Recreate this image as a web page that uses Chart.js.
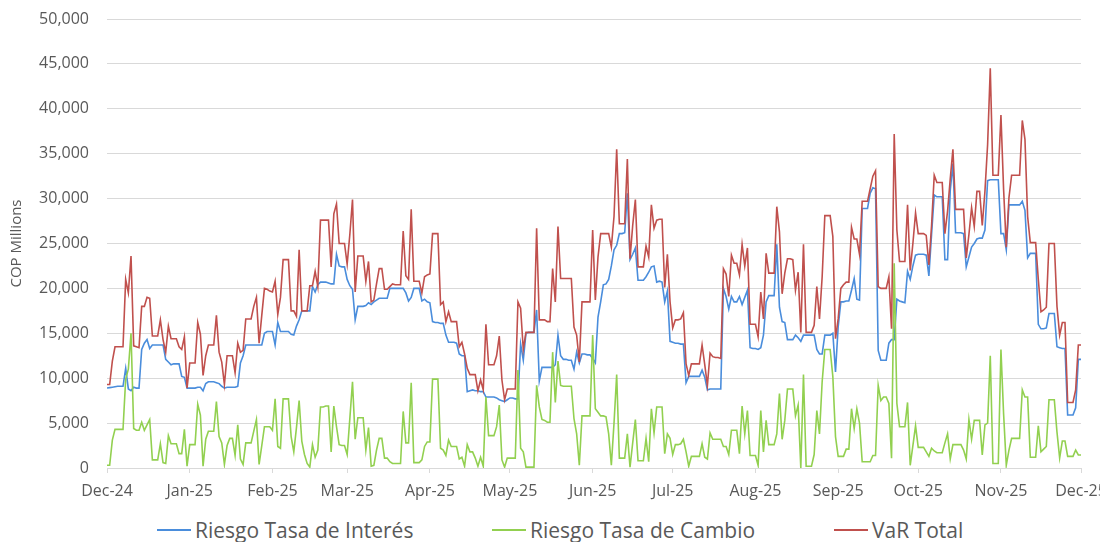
<!DOCTYPE html>
<html lang="es">
<head>
  <meta charset="UTF-8">
  <title>VaR - COP Millions</title>
  <script src="https://cdn.jsdelivr.net/npm/chart.js"></script>
  <style>
    body { margin: 0; background: #fff; font-family: "Open Sans", sans-serif; }
    #wrap { position: relative; width: 1114px; height: 542px; overflow: hidden; }
    #chart { position: absolute; left: 0; top: 0; }
    .legend-item { position: absolute; top: 518px; height: 24px; line-height: 24px; display: flex; align-items: center;
                   color: #595959; font-size: 21px; white-space: nowrap; }
    .legend-item .swatch { width: 34px; height: 2px; margin-right: 4px; }
  </style>
</head>
<body>
<div id="wrap">
  <canvas id="chart" width="1100" height="505"></canvas>
  <div id="legend"></div>
</div>

<script>
  // daily values, 1 Dec 2024 .. 1 Dec 2025 (COP millions)
  const riesgoTasaInteres = [
    8900, 8950, 9000, 9050, 9100, 9100, 9100, 11100, 8800, 8600,
    9000, 8900, 8900, 13200, 13900, 14300, 13300, 13700, 13700, 13700,
    13700, 13700, 12100, 11800, 11500, 11600, 11600, 11600, 10200, 10100,
    8900, 8900, 8900, 8900, 9000, 9000, 8600, 9400, 9600, 9600,
    9600, 9500, 9400, 9100, 8900, 9000, 9000, 9000, 9000, 9100,
    11700, 12500, 13700, 13700, 13700, 13700, 13700, 13700, 13700, 15000,
    15200, 15200, 15200, 13700, 16200, 15200, 15200, 15200, 15200, 14900,
    14800, 15800, 16500, 17500, 17500, 17500, 17500, 20200, 19600, 20400,
    20700, 20700, 20700, 20600, 20500, 20500, 23800, 22500, 22400, 22400,
    21000, 20300, 19900, 16500, 18000, 18000, 18000, 18100, 18400, 18200,
    18500, 18700, 18900, 18900, 18900, 18900, 20000, 20000, 20000, 20000,
    20000, 20000, 19500, 18600, 19000, 20000, 20000, 20000, 18600, 18800,
    18500, 18400, 16300, 16200, 16200, 16100, 16100, 14800, 14000, 14000,
    14000, 13900, 12700, 12500, 12500, 8500, 8600, 8700, 8600, 8600,
    8500, 8500, 7900, 7900, 7900, 7900, 7800, 7600, 7500, 7400,
    7600, 7800, 7800, 7700, 7700, 13800, 12000, 15000, 15100, 15100,
    15100, 17600, 9700, 11200, 11200, 11200, 11200, 11200, 11500, 14800,
    12500, 12100, 12100, 12000, 12000, 11000, 12900, 11700, 12700, 12700,
    12600, 12600, 12200, 11700, 16800, 18500, 20400, 20500, 21000, 22500,
    24300, 24800, 26100, 26100, 26200, 30600, 23200, 23800, 24500, 20900,
    20900, 20900, 21300, 21800, 22400, 22500, 20700, 20800, 20700, 18500,
    19700, 14100, 14000, 13900, 13900, 13800, 13800, 9500, 10200, 10200,
    10200, 10200, 10200, 10900, 10100, 8700, 8800, 8800, 8800, 8800,
    8800, 20000, 19100, 17700, 19100, 18500, 18500, 19100, 18200, 19000,
    19800, 13400, 13300, 13300, 13200, 13400, 14800, 18500, 19200, 19200,
    19200, 24900, 17900, 16300, 16200, 14300, 14300, 14300, 14800, 14500,
    14100, 14800, 14800, 14800, 14800, 14800, 13200, 12700, 12700, 14800,
    14800, 14800, 15000, 10700, 15700, 18500, 18500, 18600, 18600, 19800,
    21100, 18800, 18700, 28900, 28900, 28900, 30600, 31200, 31100, 13100,
    12000, 12000, 12000, 13900, 14300, 14300, 18800, 18600, 18500, 18400,
    21900, 21000, 22500, 23700, 23800, 23800, 23800, 23700, 21400, 26000,
    30400, 30200, 30200, 30200, 23200, 23200, 30900, 33900, 26200, 26200,
    26200, 26100, 22400, 23500, 24600, 25000, 25500, 25600, 25600, 26500,
    32000, 32100, 32100, 32100, 32100, 26100, 26100, 24300, 29300, 29300,
    29300, 29300, 29300, 29700, 28700, 23400, 23900, 23900, 23900, 16000,
    15500, 15500, 15600, 17200, 17200, 17200, 13500, 13400, 13300, 13300,
    5900, 5900, 5900, 6700, 12100, 12100
  ];

  const riesgoTasaCambio = [
    300, 300, 3100, 4300, 4300, 4300, 4300, 9900, 11000, 15000,
    4400, 4200, 4200, 5100, 4200, 4800, 5400, 900, 900, 900,
    2700, 600, 500, 3600, 2700, 2700, 2700, 1600, 1600, 4300,
    200, 2600, 2600, 2600, 7100, 5900, 200, 3200, 4100, 4100,
    4100, 7400, 3500, 2800, 400, 2500, 3300, 3300, 1400, 4800,
    1000, 400, 2800, 2800, 2800, 4100, 5400, 400, 2500, 4600,
    4600, 4600, 4200, 7700, 2400, 2200, 7700, 7700, 7700, 3500,
    1800, 4500, 7500, 3000, 1500, 500, 100, 2600, 1200, 2000,
    6800, 6800, 6900, 6900, 1800, 6900, 4600, 2600, 2500, 2500,
    1500, 5500, 9600, 3200, 5600, 5600, 5600, 2000, 4500, 200,
    300, 2000, 3300, 3300, 1100, 1100, 700, 500, 500, 500,
    500, 6300, 2800, 2800, 9500, 600, 600, 600, 900, 2400,
    2900, 2900, 9900, 9900, 9900, 2200, 2000, 1400, 3100, 2400,
    2400, 2400, 1000, 1200, 200, 2600, 1800, 1800, 1100, 200,
    1200, 200, 7900, 3600, 3600, 3600, 4600, 7000, 900, 100,
    1100, 1100, 1100, 1100, 10900, 2200, 1800, 100, 100, 100,
    100, 9200, 6800, 5400, 5300, 5100, 5100, 12900, 7300, 11900,
    9200, 9100, 9100, 9100, 9100, 5500, 3800, 300, 5800, 5800,
    5800, 5800, 14800, 6600, 6200, 5800, 5800, 5700, 3800, 300,
    5000, 10400, 1100, 1100, 1100, 3800, 100, 2800, 5400, 800,
    800, 800, 3300, 700, 6600, 3900, 6800, 6800, 6800, 1600,
    3800, 3300, 1500, 2600, 2600, 2700, 3200, 1800, 200, 1300,
    1300, 1300, 1300, 2700, 1200, 1000, 3900, 3200, 3200, 3200,
    3200, 2400, 2400, 1500, 4200, 4200, 4200, 1600, 6900, 3800,
    6400, 1400, 1400, 1400, 300, 6400, 1800, 5300, 2600, 2600,
    2600, 3800, 8300, 3200, 5300, 8800, 8800, 8800, 5800, 7000,
    0, 10400, 200, 200, 200, 1500, 6400, 3800, 9600, 13200,
    13200, 13200, 10200, 3500, 1300, 1300, 1300, 2100, 2100, 6600,
    4400, 6600, 5000, 700, 700, 700, 700, 1400, 1400, 9200,
    7500, 7900, 7900, 7200, 1100, 22800, 7200, 4600, 4600, 4600,
    7300, 300, 2500, 4700, 2300, 2300, 2300, 1800, 1300, 2200,
    1900, 1700, 1700, 1700, 2800, 3800, 1000, 2600, 2600, 2600,
    2600, 2000, 1000, 5400, 3200, 5300, 5300, 5300, 1450, 4800,
    5000, 12500, 500, 500, 500, 13200, 6000, 300, 2000, 3300,
    3300, 3300, 3300, 8700, 7900, 7900, 1200, 1200, 1200, 4700,
    1800, 2100, 2400, 7600, 7600, 7600, 4000, 1100, 3000, 3000,
    1300, 1300, 1300, 2000, 1450, 1450
  ];

  const varTotal = [
    9300, 9300, 11900, 13500, 13500, 13500, 13500, 21000, 19500, 23600,
    13600, 13500, 13400, 18000, 18000, 19000, 18900, 14700, 14700, 14700,
    16500, 14300, 12900, 15800, 14400, 14400, 14400, 13500, 13200, 14600,
    8900, 11700, 11700, 11700, 16200, 14900, 10300, 12500, 13700, 13700,
    13700, 17000, 12900, 11800, 9300, 12500, 12500, 12500, 10600, 13900,
    12900, 13100, 16600, 16600, 16600, 18000, 19000, 13900, 17000, 20000,
    19900, 19700, 19600, 20800, 17100, 19000, 23200, 23200, 23200, 17500,
    17500, 16900, 24300, 17500, 17500, 17500, 20300, 20300, 21900, 20200,
    27600, 27600, 27600, 27600, 22400, 28300, 29400, 25000, 25000, 25000,
    22700, 26000, 29900, 19600, 23600, 23600, 23600, 20800, 23000, 18500,
    18700, 20500, 22200, 22200, 19900, 19900, 20200, 20500, 20400, 20400,
    20400, 26400, 21400, 21000, 28800, 20800, 20800, 20800, 19500, 21300,
    21500, 21600, 26100, 26100, 26100, 18200, 18500, 16300, 17400, 16300,
    16300, 16300, 13500, 14000, 12700, 11100, 10400, 10400, 10400, 8600,
    9800, 8700, 16000, 11500, 11500, 11500, 12500, 14700, 9800, 7600,
    8800, 8800, 8800, 8800, 18500, 17800, 13200, 15100, 15100, 15100,
    15100, 26700, 16500, 16500, 16500, 16300, 16300, 22200, 18500, 26900,
    21100, 21100, 21100, 21100, 21100, 15700, 14800, 11800, 18500, 18500,
    18500, 18500, 26500, 18700, 23500, 26100, 26100, 26100, 26100, 24600,
    28000, 35500, 27200, 27200, 27200, 34400, 23300, 27000, 29900, 22400,
    22400, 22400, 24700, 23500, 29300, 26700, 27600, 27700, 27700, 20100,
    23800, 18500, 15600, 16500, 16500, 16600, 17300, 11600, 10300, 11600,
    11600, 11600, 11600, 13700, 11500, 9200, 12800, 12400, 12300, 12300,
    12200, 22200, 21600, 19100, 23700, 22800, 22800, 21500, 24900, 22500,
    24500, 16000, 16000, 16000, 14600, 19600, 16600, 23900, 21700, 21700,
    21700, 29100, 26300, 19400, 21700, 23300, 23300, 23200, 19800, 21800,
    15100, 24900, 15100, 15100, 15100, 15900, 20200, 16600, 21300, 28100,
    28100, 28100, 25800, 14400, 16600, 20000, 20400, 20700, 20700, 26800,
    25500, 25500, 23800, 29700, 29700, 29700, 31100, 32500, 33100, 20200,
    20000, 20000, 20000, 21300, 15500, 37200, 26500, 23000, 23000, 23000,
    29300, 22000, 25000, 28400, 26100, 26100, 26100, 25900, 22600, 27000,
    32600, 31800, 31800, 31800, 26100, 28600, 32200, 35500, 28800, 28800,
    28800, 28800, 23400, 26000, 29000, 26900, 30800, 30800, 27000, 30800,
    36000, 44500, 32600, 32600, 32600, 39300, 31000, 24600, 30100, 32600,
    32600, 32600, 32600, 38700, 36600, 28000, 25100, 25100, 25100, 21000,
    17400, 17600, 17900, 25000, 25000, 25000, 18000, 14800, 16200, 16200,
    7300, 7300, 7300, 8700, 13700, 13700
  ];

  const seriesNames = ["Riesgo Tasa de Interés", "Riesgo Tasa de Cambio", "VaR Total"];
  const seriesColors = ["#4a8ddc", "#92d050", "#c0504d"];

  // x axis: day number since 1 Dec 2024, month labels on the first day of each month
  const monthStartDays = [0, 31, 62, 90, 121, 151, 182, 212, 243, 274, 304, 335, 365];
  const monthLabels = ["Dec-24", "Jan-25", "Feb-25", "Mar-25", "Apr-25", "May-25", "Jun-25",
                       "Jul-25", "Aug-25", "Sep-25", "Oct-25", "Nov-25", "Dec-25"];
  const days = varTotal.map((_, i) => i);

  const textColor = "#595959";
  const gridColor = "#d9d9d9";
  const font = { family: "Open Sans", size: 16 };

  const seriesData = [riesgoTasaInteres, riesgoTasaCambio, varTotal];

  new Chart(document.getElementById("chart").getContext("2d"), {
    type: "line",
    data: {
      labels: days,
      datasets: seriesData.map((d, i) => ({
        label: seriesNames[i],
        data: d,
        borderColor: seriesColors[i],
        backgroundColor: seriesColors[i],
        borderWidth: 1.6,
        pointRadius: 0,
        tension: 0,
        fill: false,
        order: 3 - i
      }))
    },
    options: {
      responsive: false,
      animation: false,
      layout: { padding: { top: 19, right: 19, bottom: 0, left: 0 } },
      plugins: { legend: { display: false }, tooltip: { enabled: false } },
      scales: {
        x: {
          type: "linear",
          min: 0,
          max: 365,
          afterBuildTicks: axis => { axis.ticks = monthStartDays.map(v => ({ value: v })); },
          afterFit: axis => { axis.paddingLeft = 0; axis.paddingRight = 0; axis.height = 37; },
          ticks: {
            autoSkip: false, maxRotation: 0, padding: 9, color: textColor, font: font,
            callback: (v, i) => monthLabels[i]
          },
          grid: { drawOnChartArea: false, drawTicks: true, tickLength: 5, color: gridColor },
          border: { color: gridColor }
        },
        y: {
          min: 0,
          max: 50000,
          afterFit: axis => { axis.width = 107; axis.paddingTop = 0; axis.paddingBottom = 0; },
          ticks: {
            stepSize: 5000, padding: 18, color: textColor, font: font,
            callback: v => v.toLocaleString("en-US")
          },
          grid: { color: gridColor, drawTicks: false },
          border: { display: false },
          title: {
            display: true, text: "COP Millions", color: textColor,
            font: { family: "Open Sans", size: 15 }, padding: { top: 8, bottom: 0 }
          }
        }
      }
    }
  });

  // legend under the plot
  const legendLeft = [157, 492, 834];
  const legend = document.getElementById("legend");
  seriesNames.forEach((name, i) => {
    const item = document.createElement("div");
    item.className = "legend-item";
    item.style.left = legendLeft[i] + "px";
    item.innerHTML = '<span class="swatch" style="background:' + seriesColors[i] + '"></span>';
    item.appendChild(document.createTextNode(name));
    legend.appendChild(item);
  });
</script>
</body>
</html>
